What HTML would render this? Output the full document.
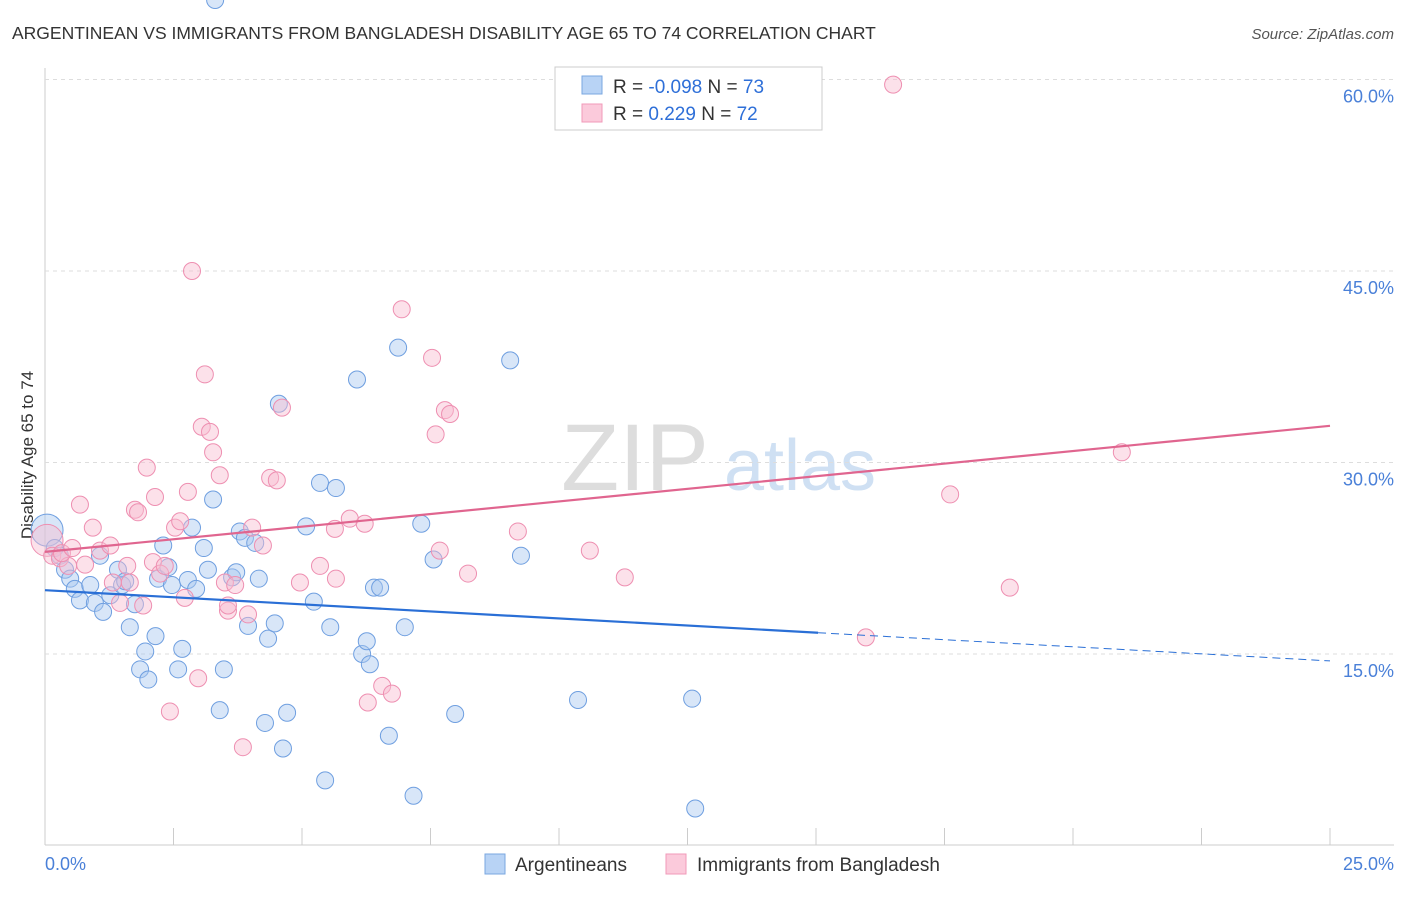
<!DOCTYPE html>
<html><head><meta charset="utf-8"><style>
body{margin:0;background:#fff;font-family:"Liberation Sans",sans-serif}
svg text{font-family:"Liberation Sans",sans-serif}
</style></head><body>
<svg id="c" width="1406" height="892">
<text x="12" y="39" font-size="17.5" fill="#333">ARGENTINEAN VS IMMIGRANTS FROM BANGLADESH DISABILITY AGE 65 TO 74 CORRELATION CHART</text>
<text x="1394" y="39" font-size="15" fill="#555" text-anchor="end" font-style="italic">Source: ZipAtlas.com</text>
<text x="635" y="490" font-size="95" fill="#ddd" text-anchor="middle" font-family="Liberation Serif">ZIP</text>
<text x="800" y="490" font-size="72" fill="#cfe0f3" text-anchor="middle">atlas</text>
<text transform="translate(33,455) rotate(-90)" font-size="17" fill="#333" text-anchor="middle">Disability Age 65 to 74</text>
<g id="grid"></g><g id="pts"></g><g id="lines"></g>
<g>
<rect x="555" y="67" width="267" height="63" fill="#fff" stroke="#ccc"/>
<rect x="582" y="76" width="20" height="18" fill="#b8d3f5" stroke="#7aa7e0"/>
<rect x="582" y="104" width="20" height="18" fill="#fbcadb" stroke="#f09ab8"/>
<text x="613" y="93" font-size="19" fill="#333">R = <tspan fill="#2e6fd8">-0.098</tspan>   N = <tspan fill="#2e6fd8">73</tspan></text>
<text x="613" y="120" font-size="19" fill="#333">R =   <tspan fill="#2e6fd8">0.229</tspan>   N = <tspan fill="#2e6fd8">72</tspan></text>
</g>
<g>
<rect x="485" y="854" width="20" height="20" fill="#b8d3f5" stroke="#7aa7e0"/>
<text x="515" y="871" font-size="19" fill="#333">Argentineans</text>
<rect x="666" y="854" width="20" height="20" fill="#fbcadb" stroke="#f09ab8"/>
<text x="697" y="871" font-size="19" fill="#333">Immigrants from Bangladesh</text>
</g>
<text x="45" y="870" font-size="18" fill="#4a80d8">0.0%</text>
<text x="1394" y="870" font-size="18" fill="#4a80d8" text-anchor="end">25.0%</text>
</svg>
<script>
const yTicks=[15,30,45,60];
const blueX=[0.04,0.19,0.29,0.39,0.49,0.58,0.68,0.88,0.97,1.07,1.13,1.27,1.42,1.5,1.56,1.65,1.75,1.85,1.95,2.01,2.15,2.2,2.3,2.4,2.47,2.59,2.67,2.78,2.86,2.94,3.09,3.17,3.27,3.4,3.48,3.64,3.72,3.79,3.89,3.95,4.09,4.16,4.28,4.34,4.47,4.55,4.63,4.71,5.23,5.35,5.45,5.55,5.66,6.07,6.17,6.26,6.32,6.4,6.52,6.69,6.87,7.0,7.17,7.32,7.56,7.98,9.05,9.26,10.37,12.59,12.65,5.08,3.31];
const blueY=[24.7,23.3,22.7,21.6,20.9,20.1,19.2,20.4,19.0,22.7,18.3,19.6,21.6,20.4,20.7,17.1,18.9,13.8,15.2,13.0,16.4,20.9,23.5,21.8,20.4,13.8,15.4,20.8,24.9,20.1,23.3,21.6,27.1,10.6,13.8,21.0,21.4,24.6,24.1,17.2,23.7,20.9,9.6,16.2,17.4,34.6,7.6,10.4,19.1,28.4,5.1,17.1,28.0,36.5,15.0,16.0,14.2,20.2,20.2,8.6,39.0,17.1,3.9,25.2,22.4,10.3,38.0,22.7,11.4,11.5,2.9,25.0];
const pinkX=[0.04,0.14,0.29,0.45,0.68,0.78,0.93,1.07,1.27,1.32,1.46,1.6,1.65,1.75,1.81,1.91,1.98,2.1,2.14,2.24,2.33,2.43,2.53,2.63,2.72,2.78,2.86,2.98,3.05,3.11,3.21,3.27,3.4,3.5,3.56,3.7,3.85,3.95,4.03,4.24,4.38,4.51,4.61,4.96,5.35,5.64,5.66,5.93,6.22,6.28,6.56,6.75,6.94,7.53,7.6,7.68,7.78,7.88,8.23,9.2,10.6,11.28,15.97,16.5,17.61,18.77,20.95,0.33,0.53,3.56];
const pinkY=[23.9,22.7,22.5,21.9,26.7,22.0,24.9,23.1,23.5,20.6,19.0,21.9,20.6,26.3,26.1,18.8,29.6,22.2,27.3,21.3,21.9,10.5,24.9,25.4,19.4,27.7,45.0,13.1,32.8,36.9,32.4,30.8,29.0,20.6,18.4,20.4,7.7,18.1,24.9,23.5,28.8,28.6,34.3,20.6,21.9,24.8,20.9,25.6,25.2,11.2,12.5,11.9,42.0,38.2,32.2,23.1,34.1,33.8,21.3,24.6,23.1,21.0,16.3,59.6,27.5,20.2,30.8,22.9,23.3,18.8];
const NS='http://www.w3.org/2000/svg';
const X0=45,X1=1330,Y0=845.5,PPY=191.5/15;
const sx=v=>X0+v/25*(X1-X0), sy=v=>Y0-v*PPY;
function mk(tag,attrs,parent){const e=document.createElementNS(NS,tag);for(const k in attrs)e.setAttribute(k,attrs[k]);parent.appendChild(e);return e;}
const grid=document.getElementById('grid');
mk('line',{x1:45,y1:68,x2:45,y2:845,stroke:'#ccc'},grid);
mk('line',{x1:45,y1:845,x2:1394,y2:845,stroke:'#ccc'},grid);
yTicks.forEach(t=>{
 const l=mk('line',{x1:45,y1:sy(t),x2:1394,y2:sy(t),stroke:'#ddd','stroke-dasharray':'4,4'},grid);
 
 
 const tx=mk('text',{x:1394,y:sy(t)+23,'font-size':18,fill:'#4a80d8','text-anchor':'end'},grid);
 tx.textContent=t.toFixed(1)+'%';
 
 
});
for(let i=0;i<=10;i++){const x=sx(i*2.5);mk('line',{x1:x,y1:828,x2:x,y2:845,stroke:'#ccc'},grid);}
const pts=document.getElementById('pts');
function dots(xs,ys,fill,stroke,name){
 xs.forEach((v,i)=>{const r=i===0?16:8.5;
  const c=mk('circle',{cx:sx(v),cy:sy(ys[i]),r:r,fill:fill,stroke:stroke,'stroke-width':1,'fill-opacity':0.45},pts);
  
  });
}
dots(blueX,blueY,'#a9c8f0','#6f9fe0','argentinean-point');
dots(pinkX,pinkY,'#f8bdd1','#ee8fb1','bangladesh-point');
const lines=document.getElementById('lines');
const bl=v=>20.0-0.2217*v, pl=v=>23.0+0.395*v;
let e=mk('line',{x1:sx(0),y1:sy(bl(0)),x2:sx(15.04),y2:sy(bl(15.04)),stroke:'#2a6fd6','stroke-width':2.2},lines);

e=mk('line',{x1:sx(15.04),y1:sy(bl(15.04)),x2:sx(25),y2:sy(bl(25)),stroke:'#2a6fd6','stroke-width':1,'stroke-dasharray':'8,5'},lines);

e=mk('line',{x1:sx(0),y1:sy(pl(0)),x2:sx(25),y2:sy(pl(25)),stroke:'#e0658f','stroke-width':2.2},lines);

</script>
</body></html>
